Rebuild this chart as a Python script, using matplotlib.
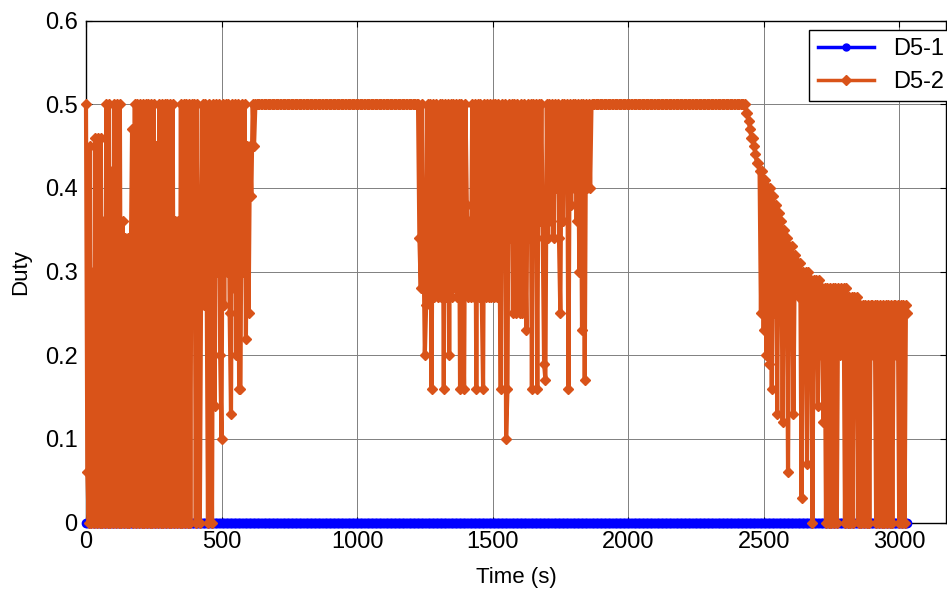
import numpy as np
import matplotlib
matplotlib.use("Agg")
import matplotlib.pyplot as plt

plt.rcParams['font.family'] = ['Liberation Sans', 'DejaVu Sans']

# Sample spacing (s)
dt = 5

# D5-2 duty (one row = 50 s)
duty_early = [0.50, 0.06, 0.00, 0.45, 0.00, 0.30, 0.00, 0.46, 0.00, 0.46,
              0.00, 0.46, 0.00, 0.36, 0.00, 0.50, 0.00, 0.50, 0.00, 0.42,
              0.00, 0.50, 0.00, 0.50, 0.00, 0.50, 0.00, 0.36, 0.00, 0.34,
              0.00, 0.34, 0.00, 0.30, 0.47, 0.00, 0.50, 0.00, 0.50, 0.00,
              0.50, 0.00, 0.50, 0.00, 0.50, 0.00, 0.50, 0.00, 0.50, 0.00,
              0.50, 0.00, 0.45, 0.00, 0.50, 0.00, 0.50, 0.00, 0.50, 0.00,
              0.50, 0.00, 0.50, 0.00, 0.50, 0.00, 0.36, 0.00, 0.36, 0.00,
              0.50, 0.00, 0.50, 0.00, 0.50, 0.00, 0.50, 0.00, 0.50, 0.30,
              0.50, 0.00, 0.50, 0.28, 0.00, 0.30, 0.50, 0.26, 0.50, 0.30,
              0.00, 0.50, 0.30, 0.00, 0.50, 0.14, 0.50, 0.30, 0.50, 0.20,
              0.10, 0.50, 0.26, 0.50, 0.30, 0.50, 0.25, 0.13, 0.50, 0.28,
              0.50, 0.20, 0.50, 0.16, 0.16, 0.50, 0.30, 0.50, 0.22, 0.45,
              0.25, 0.45, 0.39, 0.50, 0.45]          # 0 .. 620 s
duty_flat1 = [0.50] * 121                            # 625 .. 1225 s
duty_mid = [0.34, 0.28, 0.50, 0.34, 0.20, 0.26, 0.50, 0.27, 0.50, 0.16,
            0.50, 0.27, 0.50, 0.36, 0.27, 0.50, 0.27, 0.50, 0.16, 0.50,
            0.27, 0.50, 0.20, 0.50, 0.27, 0.50, 0.28, 0.50, 0.27, 0.50,
            0.16, 0.50, 0.27, 0.16, 0.50, 0.38, 0.27, 0.36, 0.27, 0.50,
            0.27, 0.50, 0.16, 0.50, 0.27, 0.50, 0.27, 0.16, 0.50, 0.27,
            0.50, 0.27, 0.50, 0.27, 0.50, 0.27, 0.50, 0.27, 0.50, 0.34,
            0.16, 0.50, 0.34, 0.50, 0.10, 0.16, 0.50, 0.34, 0.50, 0.25,
            0.50, 0.25, 0.50, 0.34, 0.25, 0.50, 0.25, 0.50, 0.34, 0.23,
            0.50, 0.34, 0.50, 0.16, 0.50, 0.34, 0.50, 0.16, 0.50, 0.36,
            0.50, 0.34, 0.19, 0.17, 0.50, 0.34, 0.50, 0.36, 0.50, 0.34,
            0.50, 0.40, 0.50, 0.34, 0.25, 0.50, 0.36, 0.50, 0.40, 0.50,
            0.16, 0.50, 0.38, 0.50, 0.40, 0.50, 0.36, 0.50, 0.30, 0.50,
            0.23, 0.50, 0.17, 0.50, 0.40, 0.50, 0.40]  # 1230 .. 1860 s
duty_flat2 = [0.50] * 113                            # 1865 .. 2425 s
duty_late = [0.50, 0.49, 0.49, 0.48, 0.47, 0.46, 0.46, 0.45, 0.44, 0.43,
             0.43, 0.42, 0.25, 0.42, 0.23, 0.41, 0.20, 0.40, 0.19, 0.40,
             0.16, 0.39, 0.25, 0.38, 0.13, 0.37, 0.26, 0.36, 0.12, 0.35,
             0.27, 0.34, 0.06, 0.33, 0.27, 0.33, 0.13, 0.32, 0.28, 0.31,
             0.27, 0.31, 0.03, 0.30, 0.27, 0.30, 0.07, 0.30, 0.25, 0.29,
             0.00, 0.29, 0.20, 0.29, 0.14, 0.29, 0.20, 0.28, 0.12, 0.28,
             0.00, 0.28, 0.00, 0.28, 0.00, 0.28, 0.00, 0.28, 0.00, 0.28,
             0.20, 0.28, 0.22, 0.28, 0.00, 0.28, 0.00, 0.27, 0.00, 0.27,
             0.00, 0.27, 0.22, 0.27, 0.00, 0.26, 0.00, 0.26, 0.00, 0.26,
             0.00, 0.26, 0.00, 0.26, 0.26, 0.20, 0.26, 0.00, 0.26, 0.00,
             0.26, 0.00, 0.26, 0.00, 0.26, 0.00, 0.26, 0.00, 0.26, 0.00,
             0.26, 0.26, 0.20, 0.26, 0.00, 0.26, 0.00, 0.26, 0.00, 0.26,
             0.25]                                   # 2430 .. 3030 s

d5_2 = np.array(duty_early + duty_flat1 + duty_mid + duty_flat2 + duty_late)
t = np.arange(len(d5_2)) * dt

# D5-1 stays at zero except one tiny blip near the start
d5_1 = np.zeros(len(d5_2))
d5_1[4] = 0.012

labels = ['D5-1', 'D5-2']
x_ticks = [0, 500, 1000, 1500, 2000, 2500, 3000]
y_ticks = [0, 0.1, 0.2, 0.3, 0.4, 0.5, 0.6]

fig = plt.figure(figsize=(9.47, 5.91), dpi=100)
ax = fig.add_axes([0.0908, 0.1156, 0.9082, 0.8497])

ax.plot(t, d5_1, color=(0, 0, 1), marker='o', markersize=6, lw=3,
        label=labels[0], clip_on=False, zorder=3)
ax.plot(t, d5_2, color=(0.851, 0.325, 0.098), marker='D', markersize=5.3,
        lw=3, label=labels[1], clip_on=False, zorder=4)

ax.set_xlim(0, 3173)
ax.set_ylim(0, 0.6)
ax.set_xticks(x_ticks)
ax.set_yticks(y_ticks)
ax.set_yticklabels(['0', '0.1', '0.2', '0.3', '0.4', '0.5', '0.6'])
ax.tick_params(direction='in', top=True, right=True, length=4,
               labelsize=17, pad=6)
ax.grid(True, color='0.5', lw=0.7)
ax.set_axisbelow(True)
for s in ax.spines.values():
    s.set_color('black')
    s.set_linewidth(1.0)

ax.set_xlabel('Time (s)', fontsize=16, labelpad=10)
ax.set_ylabel('Duty', fontsize=16, labelpad=10)

leg = ax.legend(loc='upper left', bbox_to_anchor=(0.841, 0.981),
                borderaxespad=0, fontsize=17, fancybox=False,
                edgecolor='black', framealpha=1, numpoints=1,
                handlelength=2.4, labelspacing=0.45, borderpad=0.35)
leg.get_frame().set_linewidth(1.0)
for h in leg.get_lines():
    h.set_linewidth(2.5)
    h.set_markersize(5)

fig.savefig('out.png', dpi=100)
